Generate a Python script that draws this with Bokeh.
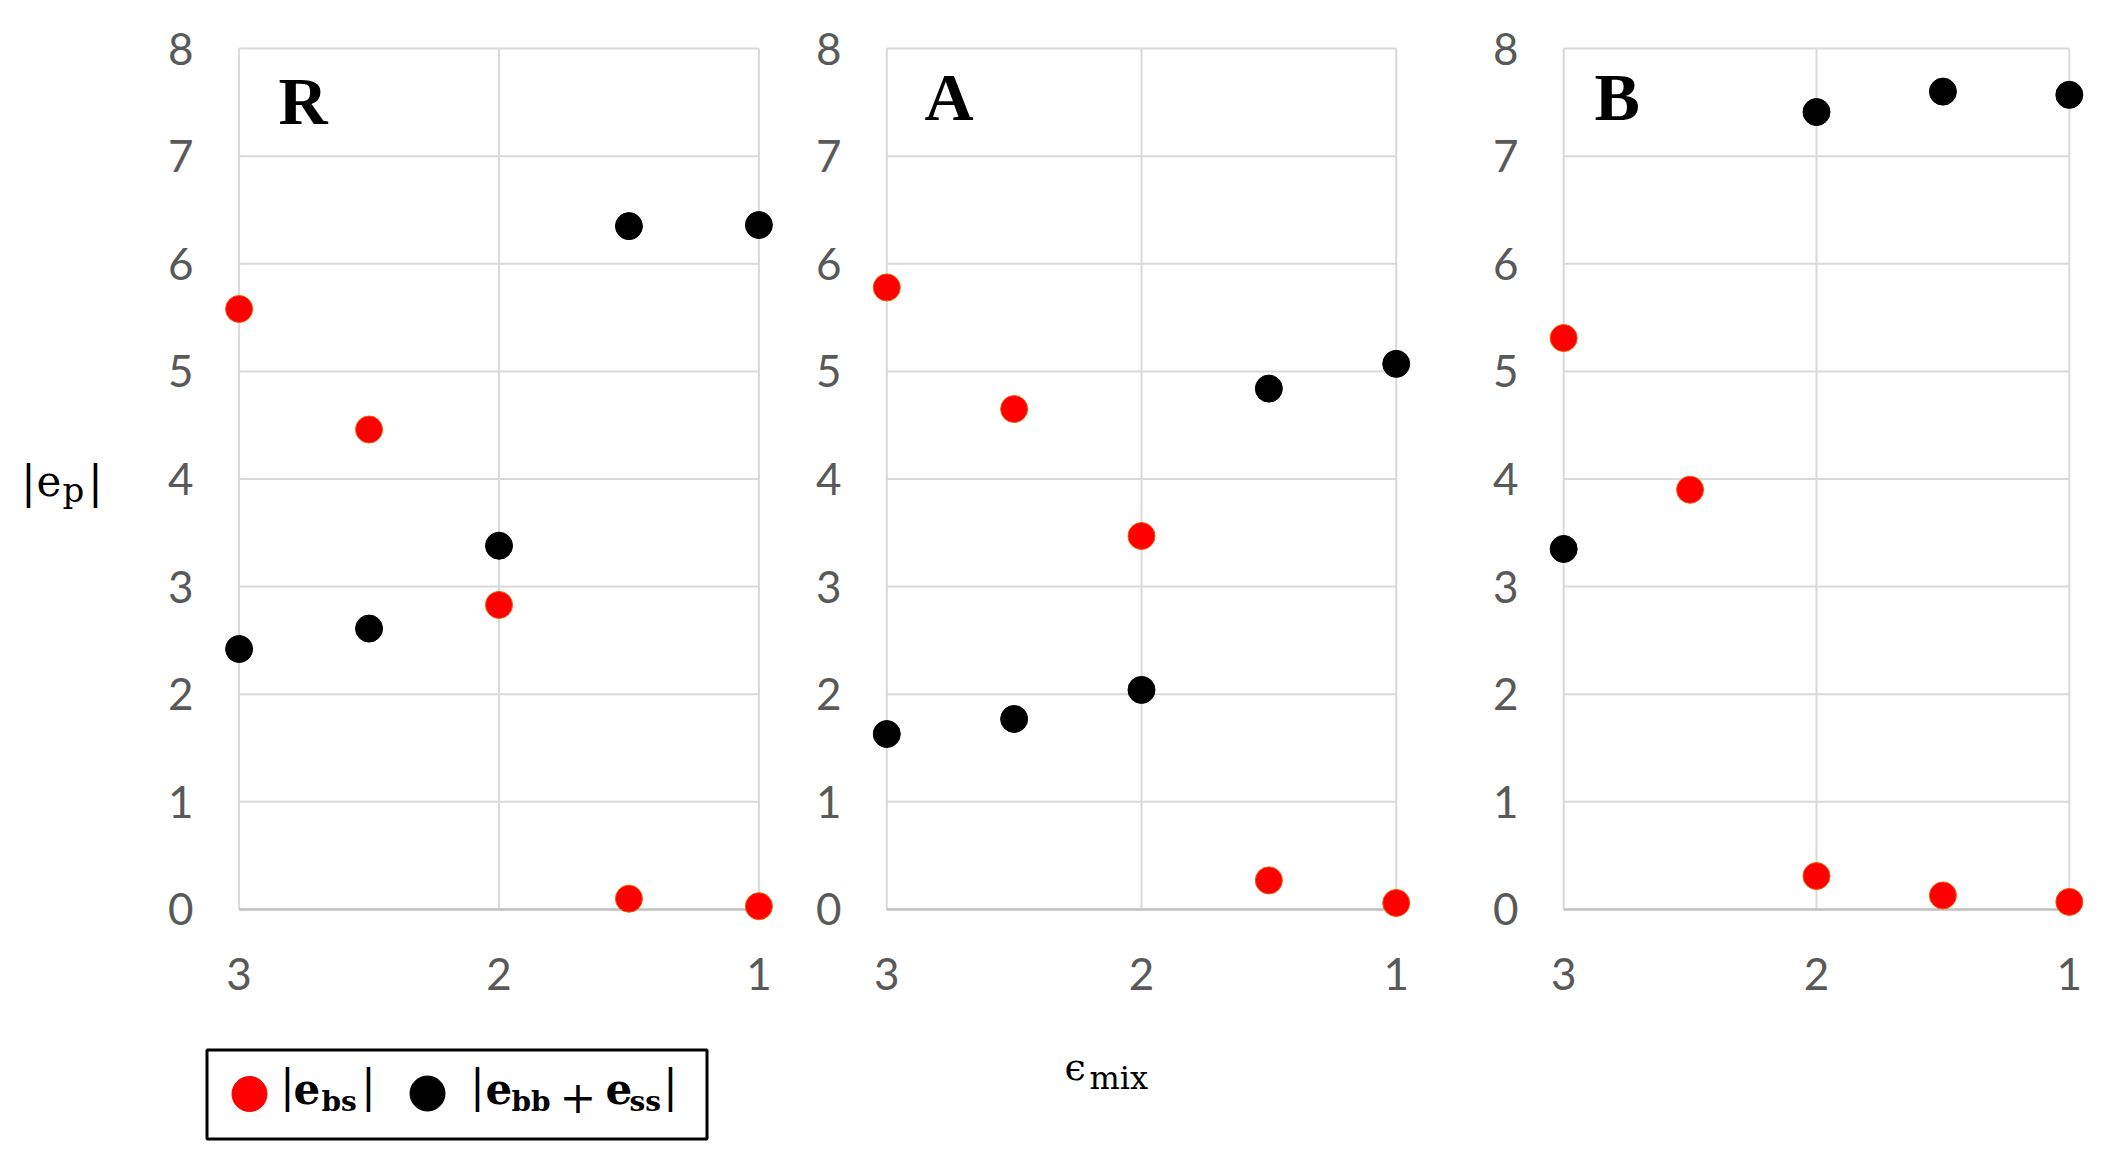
from bokeh.plotting import figure
from bokeh.models import Range1d, FixedTicker, Label, ColumnDataSource
from bokeh.layouts import row, column
from bokeh.embed import file_html
from bokeh.resources import INLINE

# ---------------- data ----------------
eps_mix = [3.0, 2.5, 2.0, 1.5, 1.0]
panel_names = ["R", "A", "B"]
R_ebs = [5.58, 4.46, 2.83, 0.10, 0.03]
R_ebb_ess = [2.42, 2.61, 3.38, 6.35, 6.36]
A_ebs = [5.78, 4.65, 3.47, 0.27, 0.06]
A_ebb_ess = [1.63, 1.77, 2.04, 4.84, 5.07]
B_ebs = [5.31, 3.90, 0.31, 0.13, 0.07]
B_ebb_ess = [3.35, float("nan"), 7.41, 7.60, 7.57]
x_ticks = [3, 2, 1]
y_ticks = [0, 1, 2, 3, 4, 5, 6, 7, 8]

# ---------------- styles / layout ----------------
RED = "#ff0000"
RED_EDGE = "#f05a00"
BLACK = "#000000"
GRID = "#d9d9d9"
AXIS = "#bfbfbf"
TICK_TXT = "#595959"
TICK_FONT = "Lato"
MATH_FONT = "DejaVu Serif"
LETTER_FONT = "Liberation Serif"
K_BASE = 0.42   # baseline correction (fraction of font size)

X0, X1 = 3.06, 0.94
Y0, Y1 = -0.14, 8.14
TOP_H = 1025
BOT_H = 127
STRIP_W = 110
W_TOTAL = 2104

# figure-local geometry for each panel; letter = (local x, baseline y)
specs = [
    dict(width=690, left=113, right=26, top=28, bottom=95, letter=(278 - 110, 125)),
    dict(width=670, left=71, right=59, top=33, bottom=101, letter=(924 - 800, 125)),
    dict(width=634, left=78, right=20, top=33, bottom=101, letter=(1594 - 1470, 125)),
]
series = [(R_ebs, R_ebb_ess), (A_ebs, A_ebb_ess), (B_ebs, B_ebb_ess)]
Y_STANDOFF = 30
X_STANDOFF = 33


def to_data(s, px, py):
    fw = s["width"] - s["left"] - s["right"]
    fh = TOP_H - s["top"] - s["bottom"]
    xd = X0 + (px - s["left"]) / fw * (X1 - X0)
    yd = Y0 + (TOP_H - s["bottom"] - py) / fh * (Y1 - Y0)
    return xd, yd


def style_axis(ax, standoff):
    ax.axis_line_color = None
    ax.major_tick_line_color = None
    ax.minor_tick_line_color = None
    ax.major_tick_out = 0
    ax.major_tick_in = 0
    ax.minor_tick_out = 0
    ax.minor_tick_in = 0
    ax.major_label_text_font = TICK_FONT
    ax.major_label_text_font_size = "44px"
    ax.major_label_text_color = TICK_TXT
    ax.major_label_standoff = standoff


figs = []
for name, s, (ebs, ebb) in zip(panel_names, specs, series):
    p = figure(width=s["width"], height=TOP_H,
               x_range=Range1d(X0, X1), y_range=Range1d(Y0, Y1),
               output_backend="svg", toolbar_location=None,
               min_border_left=s["left"], min_border_right=s["right"],
               min_border_top=s["top"], min_border_bottom=s["bottom"])
    p.outline_line_color = None
    p.background_fill_color = "white"
    p.border_fill_color = "white"
    p.grid.visible = False

    p.xaxis.ticker = FixedTicker(ticks=x_ticks)
    p.yaxis.ticker = FixedTicker(ticks=y_ticks)
    style_axis(p.xaxis[0], X_STANDOFF)
    style_axis(p.yaxis[0], Y_STANDOFF)

    # gridlines spanning exactly the tick extents
    xmin, xmax = min(x_ticks), max(x_ticks)
    ymin, ymax = min(y_ticks), max(y_ticks)
    p.segment(x0=x_ticks, x1=x_ticks, y0=[ymin] * len(x_ticks), y1=[ymax] * len(x_ticks),
              line_color=GRID, line_width=2)
    inner_y = [t for t in y_ticks if t != ymin]
    p.segment(x0=[xmin] * len(inner_y), x1=[xmax] * len(inner_y), y0=inner_y, y1=inner_y,
              line_color=GRID, line_width=2)
    p.segment(x0=[xmin], x1=[xmax], y0=[ymin], y1=[ymin], line_color=AXIS, line_width=2.5)

    src = ColumnDataSource(dict(x=eps_mix, ebs=ebs, ebb=ebb))
    p.scatter("x", "ebs", source=src, size=27, fill_color=RED,
              line_color=RED_EDGE, line_width=1)
    p.scatter("x", "ebb", source=src, size=27, fill_color=BLACK,
              line_color=BLACK, line_width=1)

    lx_px, base = s["letter"]
    lx, ly = to_data(s, lx_px, base - K_BASE * 68)
    p.add_layout(Label(x=lx, y=ly, text=name, text_font=LETTER_FONT,
                       text_font_style="bold", text_font_size="68px",
                       text_color="black", text_align="left",
                       text_baseline="alphabetic"))
    figs.append(p)


def add_text(fig, t, x, baseline, fs, style="normal", align="left", dy=0):
    fig.add_layout(Label(x=x, y=baseline - K_BASE * fs + dy, text=t, text_font=MATH_FONT,
                         text_font_size=f"{fs}px", text_font_style=style,
                         text_color="black", text_align=align,
                         text_baseline="alphabetic"))


def blank_fig(w, h, y_top):
    f = figure(width=w, height=h, x_range=Range1d(0, w),
               y_range=Range1d(y_top + h, y_top), output_backend="svg",
               toolbar_location=None, x_axis_type=None, y_axis_type=None,
               min_border=0)
    f.outline_line_color = None
    f.grid.visible = False
    f.background_fill_color = "white"
    f.border_fill_color = "white"
    return f


# ---------------- left strip: y title |e_p| ----------------
ps = blank_fig(STRIP_W, TOP_H, 0)
DY_L = 37
add_text(ps, "|", 28, 497, 44, align="center", dy=DY_L)
add_text(ps, "e", 36, 495, 42, dy=DY_L)
add_text(ps, "p", 62, 502, 34, dy=DY_L)
add_text(ps, "|", 95, 497, 44, align="center", dy=DY_L)

# ---------------- bottom strip: legend + x title ----------------
pb = blank_fig(W_TOTAL, BOT_H, TOP_H)
pb.quad(left=[206.5], right=[706.5], top=[1049.5], bottom=[1138.5],
        fill_color=None, line_color="black", line_width=3)
pb.scatter(x=[249, 427], y=[1093.5, 1093], size=35,
           fill_color=[RED, BLACK], line_color=[RED, BLACK])

DY_B = -4
add_text(pb, "|", 287, 1107, 44, align="center", dy=DY_B)
add_text(pb, "e", 293, 1110, 42, "bold", dy=DY_B)
add_text(pb, "bs", 321, 1117, 28, "bold", dy=DY_B)
add_text(pb, "|", 368, 1107, 44, align="center", dy=DY_B)
add_text(pb, "|", 477, 1107, 44, align="center", dy=DY_B)
add_text(pb, "e", 485, 1110, 42, "bold", dy=DY_B)
add_text(pb, "bb", 511, 1117, 28, "bold", dy=DY_B)
add_text(pb, "+", 577.5, 1118, 44, align="center", dy=DY_B)
add_text(pb, "e", 605, 1110, 42, "bold", dy=DY_B)
add_text(pb, "ss", 629, 1117, 28, "bold", dy=DY_B)
add_text(pb, "|", 670, 1107, 44, align="center", dy=DY_B)

add_text(pb, "ϵ", 1064, 1086, 38, dy=DY_B)
add_text(pb, "mix", 1089, 1095, 32, dy=DY_B)

layout = column(row(ps, *figs), pb)
open("out.html", "w").write(file_html(layout, INLINE))
